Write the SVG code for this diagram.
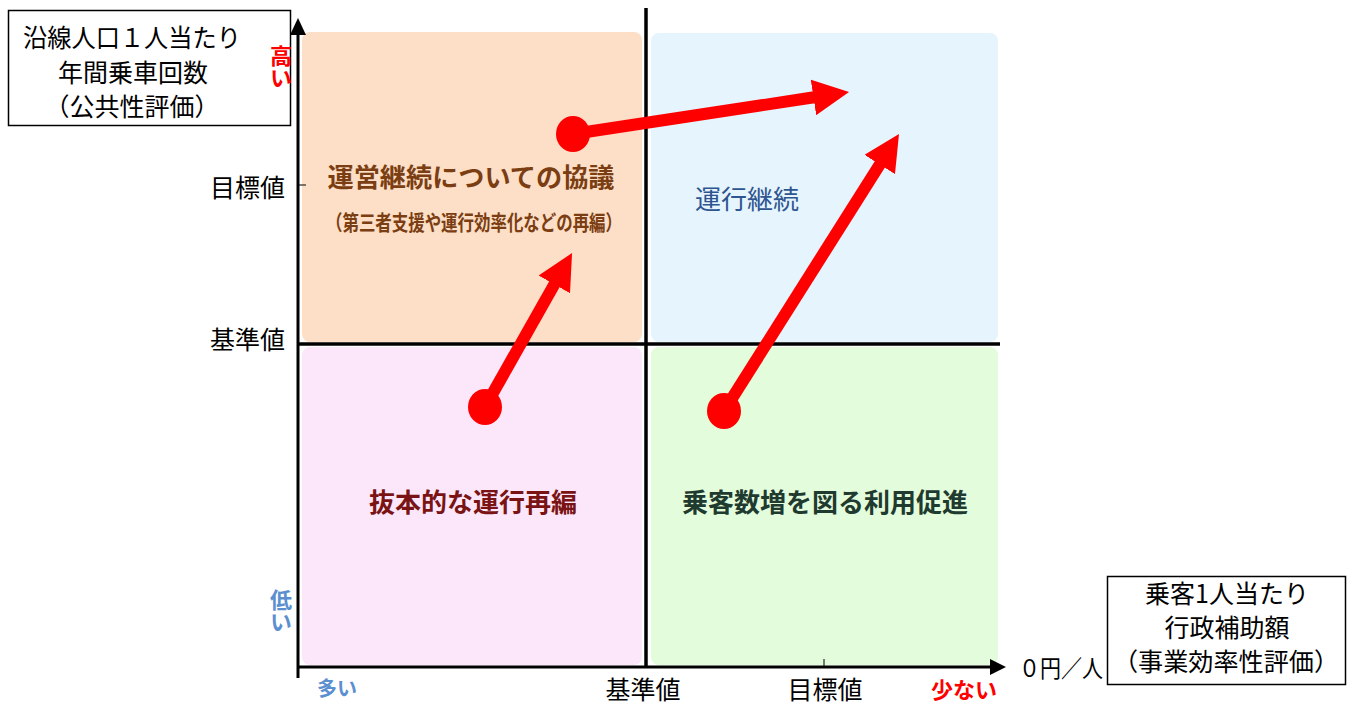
<svg xmlns="http://www.w3.org/2000/svg" width="1356" height="704" viewBox="0 0 1356 704">
<style>
text{font-family:"Noto Sans CJK JP","Noto Sans",sans-serif;}
.lbl{font-size:25px;fill:#000;}
.ax{stroke:#000;stroke-width:3;fill:none;}
.box{fill:#fff;stroke:#000;stroke-width:1.5;}
.arr{stroke:#ff0000;stroke-width:12;fill:none;}
.dot{fill:#ff0000;}
.vt{writing-mode:vertical-rl;font-size:22px;font-weight:bold;}
</style>
<defs>
<marker id="ah" markerUnits="userSpaceOnUse" markerWidth="36" markerHeight="36" refX="4" refY="18" orient="auto">
<path d="M0,0 L36,18 L0,36 z" fill="#ff0000"/>
</marker>
</defs>
<rect width="1356" height="704" fill="#fff"/>
<g id="q-tl"><rect x="302" y="32" width="340" height="310" rx="8" fill="#fcdfc6"/>
<text x="471" y="187" text-anchor="middle" font-size="26" font-weight="bold" fill="#7b3d12" textLength="287" lengthAdjust="spacingAndGlyphs">運営継続についての協議</text>
<text x="474" y="230" text-anchor="middle" font-size="21" font-weight="bold" fill="#7b3d12" textLength="296" lengthAdjust="spacingAndGlyphs">（第三者支援や運行効率化などの再編）</text></g>
<g id="q-tr"><rect x="651" y="33" width="347" height="309" rx="8" fill="#e6f4fd"/>
<text x="747" y="209" text-anchor="middle" font-size="26" fill="#2e5590">運行継続</text></g>
<g id="q-bl"><rect x="302" y="347" width="340" height="318" rx="8" fill="#fce7fa"/>
<text x="473" y="512" text-anchor="middle" font-size="26" font-weight="bold" fill="#7a1414">抜本的な運行再編</text></g>
<g id="q-br"><rect x="651" y="347" width="347" height="318" rx="8" fill="#e3fcdc"/>
<text x="825" y="512" text-anchor="middle" font-size="26" font-weight="bold" fill="#1f3a2e">乗客数増を図る利用促進</text></g>
<g id="axes">
<line class="ax" x1="298" y1="30" x2="298" y2="678"/>
<path d="M290,35 L298,18 L306,35 z" fill="#000"/>
<line class="ax" x1="298" y1="667" x2="994" y2="667"/>
<path d="M990,659 L1006,667 L990,675 z" fill="#000"/>
<line x1="646" y1="8" x2="646" y2="667" stroke="#000" stroke-width="3.5"/>
<line x1="298" y1="344" x2="1000" y2="344" stroke="#000" stroke-width="3.5"/>
<line x1="298" y1="185" x2="306" y2="185" stroke="#000" stroke-width="1"/>
<line x1="824" y1="659" x2="824" y2="667" stroke="#000" stroke-width="1"/>
</g>
<g id="y-title"><rect class="box" x="8.5" y="10.5" width="282" height="115"/>
<text class="lbl" x="132" y="47" text-anchor="middle" textLength="218" lengthAdjust="spacingAndGlyphs">沿線人口１人当たり</text>
<text class="lbl" x="133" y="82" text-anchor="middle">年間乗車回数</text>
<text class="lbl" x="132" y="116" text-anchor="middle">（公共性評価）</text></g>
<g id="x-title"><rect class="box" x="1107.5" y="576.5" width="238" height="108"/>
<text class="lbl" x="1227" y="603" text-anchor="middle">乗客1人当たり</text>
<text class="lbl" x="1227" y="637" text-anchor="middle">行政補助額</text>
<text class="lbl" x="1226" y="671" text-anchor="middle" textLength="226" lengthAdjust="spacingAndGlyphs">（事業効率性評価）</text></g>
<g id="y-labels">
<text class="vt" x="281" y="45" fill="#ff0000">高い</text>
<text class="vt" x="281" y="589" fill="#5b8fd0">低い</text>
<text class="lbl" x="285" y="197" text-anchor="end">目標値</text>
<text class="lbl" x="285" y="349" text-anchor="end">基準値</text>
</g>
<g id="x-labels">
<text x="337" y="696" text-anchor="middle" font-size="20" font-weight="bold" fill="#5b8fd0">多い</text>
<text class="lbl" x="643" y="699" text-anchor="middle">基準値</text>
<text class="lbl" x="825" y="699" text-anchor="middle">目標値</text>
<text x="964" y="698" text-anchor="middle" font-size="22" font-weight="bold" fill="#ff0000">少ない</text>
<text x="1019" y="677" font-size="24" textLength="84" lengthAdjust="spacingAndGlyphs">０円／人</text>
</g>
<g id="connectors">
<ellipse class="dot" cx="573" cy="134" rx="17" ry="18"/>
<line class="arr" x1="573" y1="134" x2="817.4" y2="96.8" marker-end="url(#ah)"/>
<ellipse class="dot" cx="485" cy="407" rx="17" ry="18"/>
<line class="arr" x1="485" y1="407" x2="556.3" y2="280.9" marker-end="url(#ah)"/>
<ellipse class="dot" cx="724" cy="411" rx="17" ry="18"/>
<line class="arr" x1="724" y1="411" x2="881.9" y2="161.1" marker-end="url(#ah)"/>
</g>
</svg>
